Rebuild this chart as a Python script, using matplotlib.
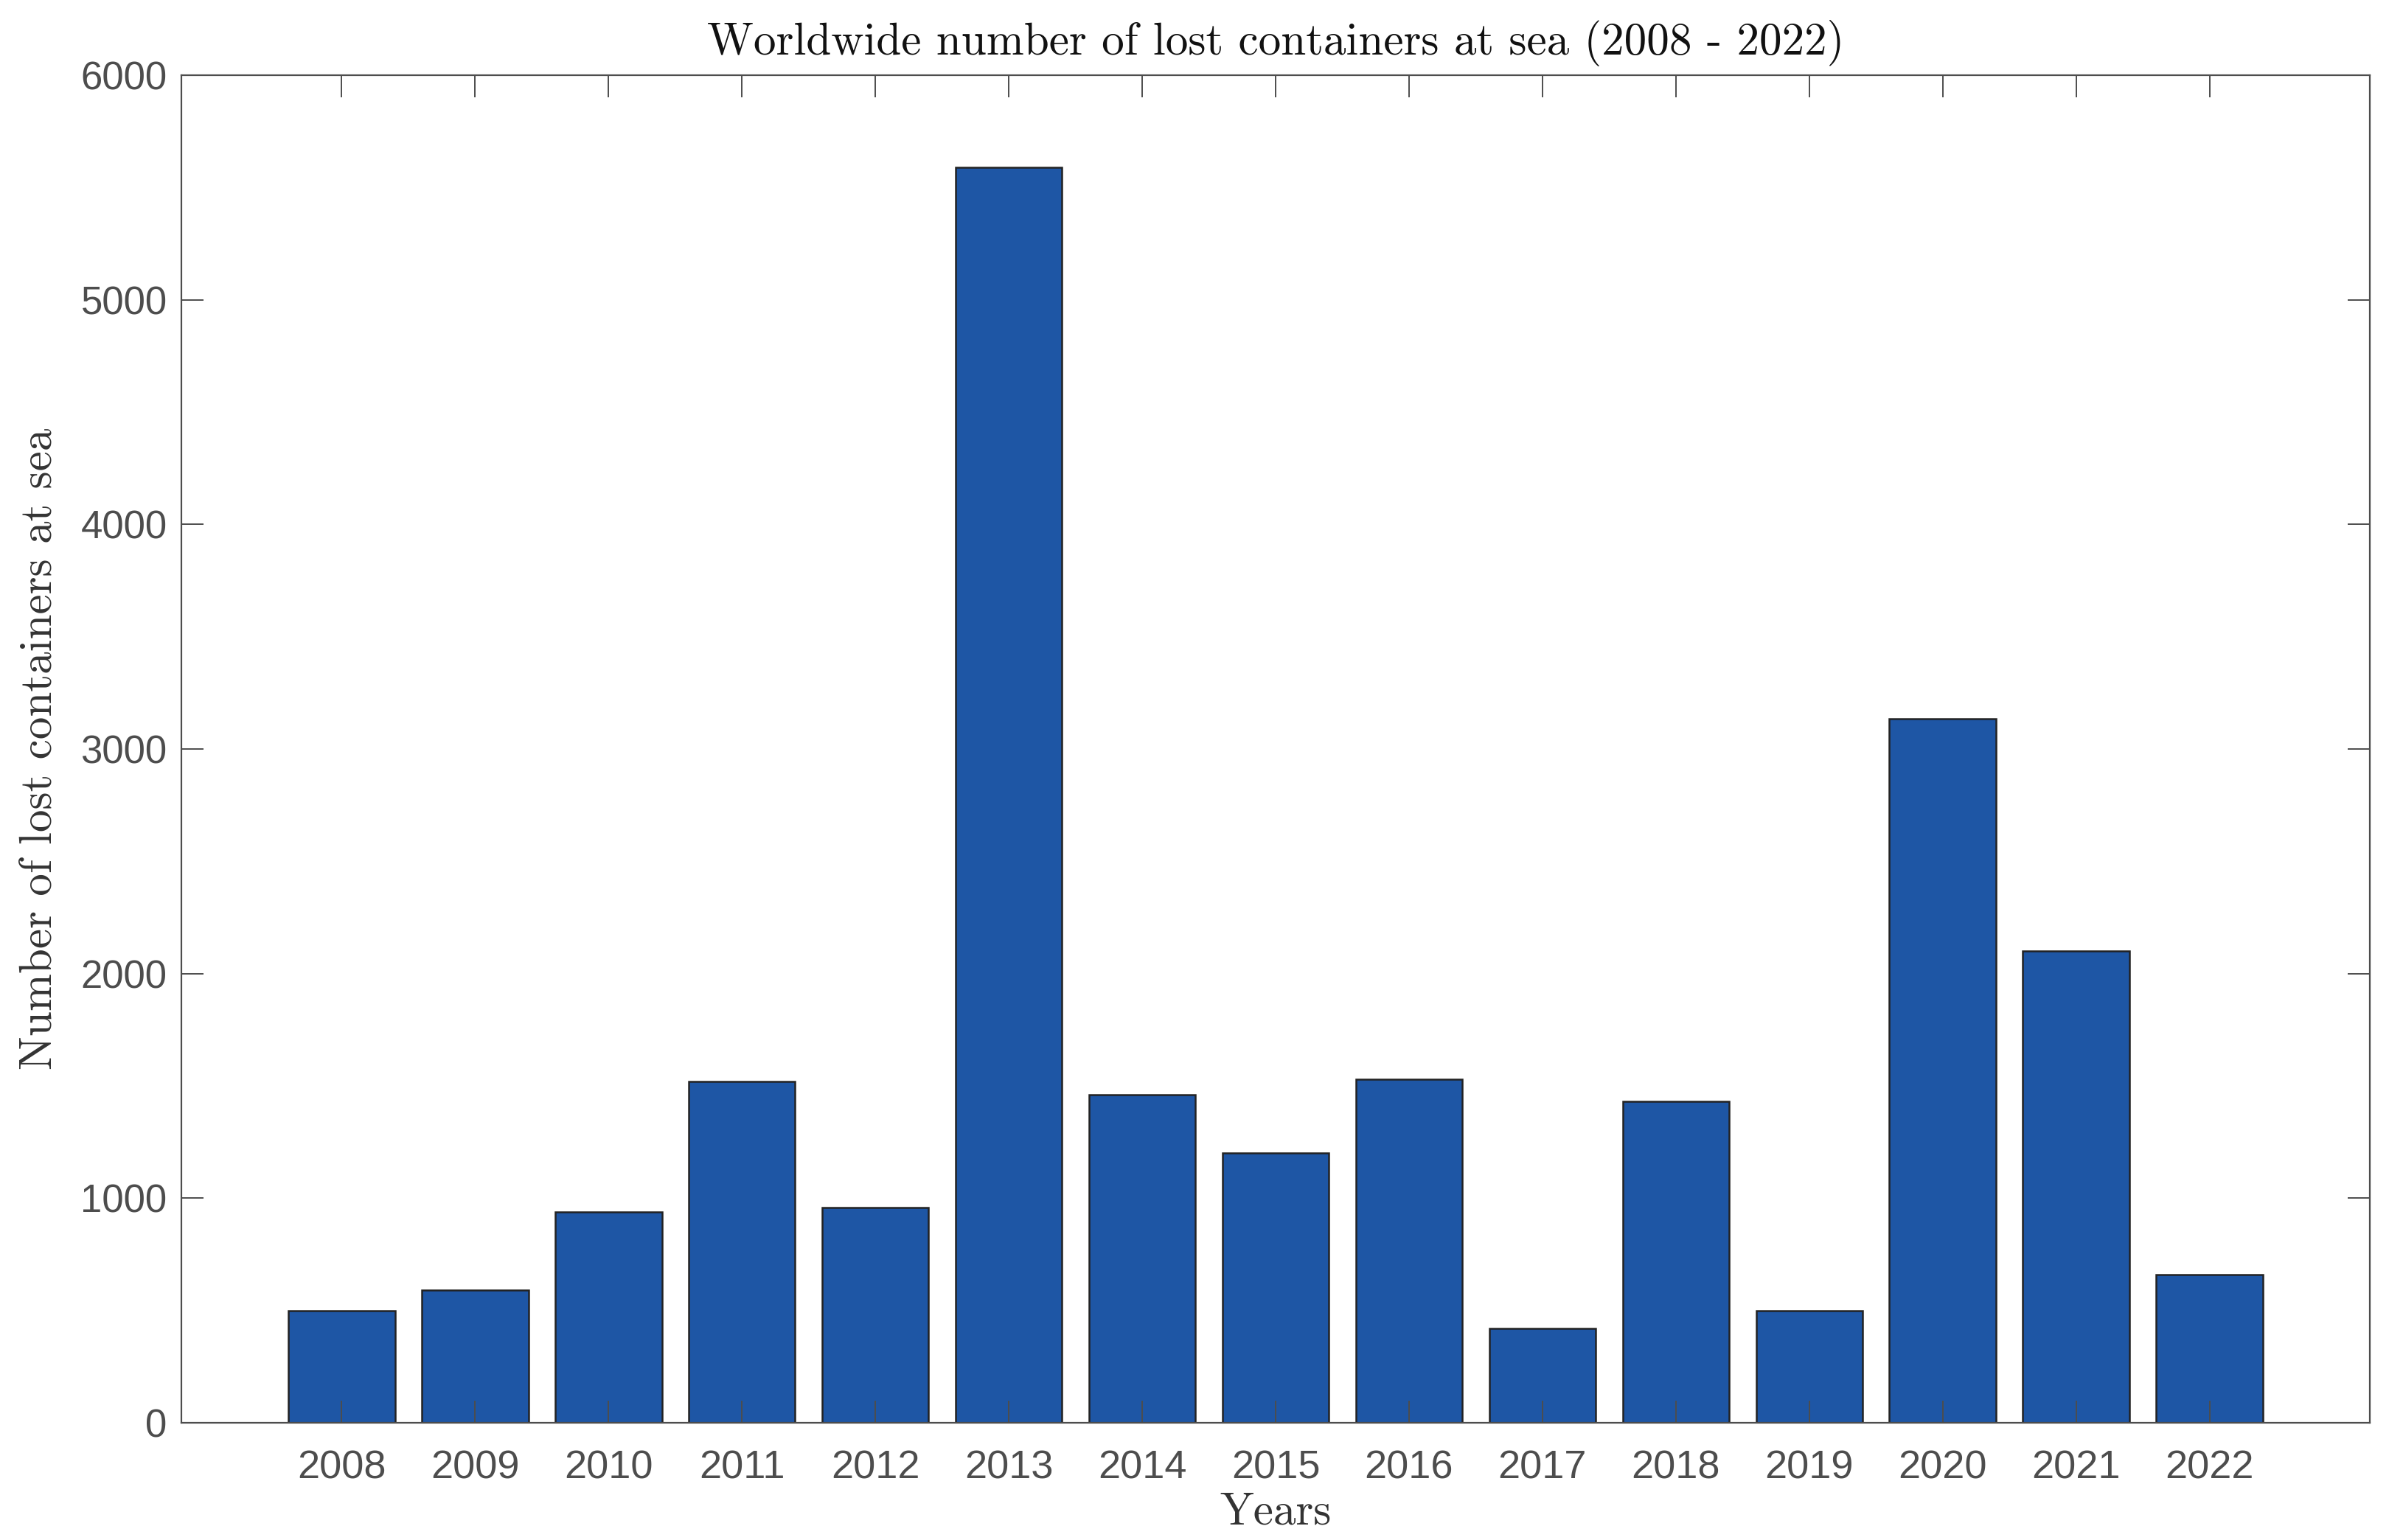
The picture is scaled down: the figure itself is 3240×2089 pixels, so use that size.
import matplotlib
matplotlib.use("Agg")
import matplotlib.pyplot as plt

years = [2008, 2009, 2010, 2011, 2012, 2013, 2014, 2015, 2016, 2017, 2018, 2019, 2020, 2021, 2022]
lost = [500, 590, 940, 1520, 960, 5590, 1460, 1200, 1530, 420, 1430, 500, 3135, 2100, 660]
yticks = [0, 1000, 2000, 3000, 4000, 5000, 6000]

title_text = "Worldwide number of lost containers at sea (2008 - 2022)"
xlabel_text = "Years"
ylabel_text = "Number of lost containers at sea"

DPI = 200
fig = plt.figure(figsize=(3241 / DPI, 2089 / DPI), dpi=DPI)
ax = fig.add_axes([246 / 3241, 1 - 1930 / 2089, (3214 - 246) / 3241, (1930 - 102) / 2089])

axcol = "#4d4d4d"
ax.bar(years, lost, width=0.8, color="#1E56A5", edgecolor="#222222", linewidth=0.9, zorder=1)

ax.set_xlim(years[0] - 1.2, years[-1] + 1.2)
ax.set_ylim(0, 6000)
ax.set_xticks(years)
ax.set_xticklabels([str(y) for y in years])
ax.set_yticks(yticks)
ax.set_yticklabels([str(v) for v in yticks])

for s in ax.spines.values():
    s.set_color(axcol)
    s.set_linewidth(0.8)
    s.set_zorder(3)

ax.tick_params(axis="both", which="major", direction="in", length=10.8, width=0.7,
               color=axcol, labelcolor=axcol, labelsize=19,
               top=True, right=True, zorder=3)
ax.tick_params(axis="y", pad=7)
ax.tick_params(axis="x", pad=13, labelsize=19.5)
for lab in ax.get_xticklabels() + ax.get_yticklabels():
    lab.set_fontfamily("Liberation Sans")

ax.set_title(title_text, fontfamily="cmr10", fontsize=22, color="#111111", pad=10)
ax.set_xlabel(xlabel_text, fontfamily="cmr10", fontsize=22, color="#333333", labelpad=3)
ax.set_ylabel(ylabel_text, fontfamily="cmr10", fontsize=22, color="#333333", labelpad=10)

fig.savefig("out.png", dpi=DPI, facecolor="white")
